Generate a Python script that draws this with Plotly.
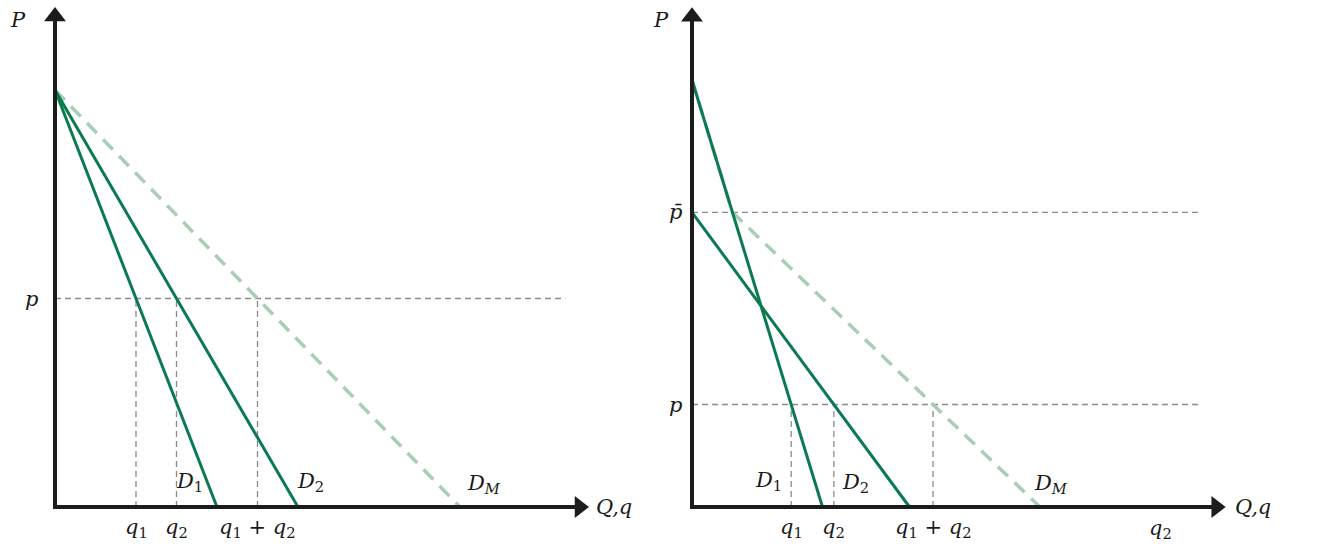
import plotly.graph_objects as go

# left panel: two demands with the same price intercept
left_a = 10          # common price intercept
left_d1_q0 = 4       # D1 quantity intercept
left_d2_q0 = 6       # D2 quantity intercept
left_p = 5           # price level

# right panel: demands with different price intercepts (kinked market demand)
right_a1 = 10        # D1 price intercept
right_d1_q0 = 3
right_a2 = 6.9       # D2 price intercept = p bar
right_d2_q0 = 5
right_p = 2.4

GREEN = "#0b7a4f"
LIGHT = "#a8ceb6"
GRAY = "#8a8a8a"
AXIS = "#1c1c1c"
FONT = "DejaVu Serif"


def q_at(a, q0, price):
    return q0 * (1 - price / a)


lq1 = q_at(left_a, left_d1_q0, left_p)
lq2 = q_at(left_a, left_d2_q0, left_p)
rq1 = q_at(right_a1, right_d1_q0, right_p)
rq2 = q_at(right_a2, right_d2_q0, right_p)
r_kink_q = q_at(right_a1, right_d1_q0, right_a2)

fig = go.Figure()


def line(x, y, xa, ya, color, width, dash="solid"):
    fig.add_trace(go.Scatter(x=x, y=y, mode="lines", xaxis=xa, yaxis=ya,
                             line=dict(color=color, width=width, dash=dash),
                             hoverinfo="skip", showlegend=False))


def arrow(x, y, xa, ya, symbol):
    fig.add_trace(go.Scatter(x=[x], y=[y], mode="markers", xaxis=xa, yaxis=ya,
                             marker=dict(symbol=symbol, size=19, color=AXIS,
                                         line=dict(width=0)),
                             hoverinfo="skip", showlegend=False))


# ---- left panel ----
line([0, 12.6], [left_p, left_p], "x", "y", GRAY, 1.3, "6px,4px")
for qv in [lq1, lq2, lq1 + lq2]:
    line([qv, qv], [0, left_p], "x", "y", GRAY, 1.3, "6px,4px")
line([0, left_d1_q0 + left_d2_q0], [left_a, 0], "x", "y", LIGHT, 3.5, "14px,9px")
line([0, left_d1_q0], [left_a, 0], "x", "y", GREEN, 3)
line([0, left_d2_q0], [left_a, 0], "x", "y", GREEN, 3)
line([0, 0, 13.0], [11.7, 0, 0], "x", "y", AXIS, 4)
arrow(0, 11.76, "x", "y", "triangle-up")
arrow(12.95, 0, "x", "y", "triangle-right")

# ---- right panel ----
for pv in [right_a2, right_p]:
    line([0, 11.72], [pv, pv], "x2", "y2", GRAY, 1.3, "6px,4px")
for qv in [rq1, rq2, rq1 + rq2]:
    line([qv, qv], [0, right_p], "x2", "y2", GRAY, 1.3, "6px,4px")
line([0, r_kink_q, right_d1_q0 + right_d2_q0], [right_a1, right_a2, 0],
     "x2", "y2", LIGHT, 3.5, "14px,9px")
line([0, right_d1_q0], [right_a1, 0], "x2", "y2", GREEN, 3)
line([0, right_d2_q0], [right_a2, 0], "x2", "y2", GREEN, 3)
line([0, 0, 12.1], [11.4, 0, 0], "x2", "y2", AXIS, 4)
arrow(0, 11.48, "x2", "y2", "triangle-up")
arrow(12.05, 0, "x2", "y2", "triangle-right")

# ---- labels ----
Q1 = "<i>q</i><sub>1</sub>"
Q2 = "<i>q</i><sub>2</sub>"
labels = [
    ("x", "y", -0.91, 11.68, "<i>P</i>"),
    ("x", "y", -0.59, left_p, "<i>p</i>"),
    ("x", "y", 13.8, 0, "<i>Q,q</i>"),
    ("x", "y", 3.31, 0.6, "<i>D</i><sub>1</sub>"),
    ("x", "y", 6.3, 0.6, "<i>D</i><sub>2</sub>"),
    ("x", "y", 10.6, 0.55, "<i>D</i><sub><i>M</i></sub>"),
    ("x", "y", lq1, -0.5, Q1),
    ("x", "y", lq2, -0.5, Q2),
    ("x", "y", lq1 + lq2, -0.5, Q1 + " + " + Q2),
    ("paper", "y2", 0.5008, 11.4, "<i>P</i>"),
    ("x2", "y2", -0.37, right_a2, "<i>p\u0304</i>"),
    ("x2", "y2", -0.37, right_p, "<i>p</i>"),
    ("x2", "y2", 12.9, 0, "<i>Q,q</i>"),
    ("x2", "y2", 1.75, 0.6, "<i>D</i><sub>1</sub>"),
    ("x2", "y2", 3.75, 0.56, "<i>D</i><sub>2</sub>"),
    ("x2", "y2", 8.25, 0.54, "<i>D</i><sub><i>M</i></sub>"),
    ("x2", "y2", rq1, -0.5, Q1),
    ("x2", "y2", rq2, -0.5, Q2),
    ("x2", "y2", rq1 + rq2, -0.5, Q1 + " + " + Q2),
    ("x2", "y2", 10.76, -0.52, Q2),
]
for xr, yr, x, y, t in labels:
    fig.add_annotation(x=x, y=y, xref=xr, yref=yr, text=t, showarrow=False,
                       xanchor="center", yanchor="middle",
                       font=dict(family=FONT, size=21, color="#1a1a1a"))

ax_common = dict(visible=False, showgrid=False, zeroline=False, fixedrange=True)
fig.update_layout(
    width=1320, height=552,
    margin=dict(l=0, r=0, t=0, b=0),
    paper_bgcolor="white", plot_bgcolor="white",
    xaxis=dict(domain=[0, 0.5], range=[-55 / 40.5, 605 / 40.5], **ax_common),
    yaxis=dict(domain=[0, 1], range=[-45 / 41.7, 507 / 41.7], **ax_common),
    xaxis2=dict(domain=[0.5, 1], range=[-32 / 43.5, 628 / 43.5], anchor="y2", **ax_common),
    yaxis2=dict(domain=[0, 1], range=[-45 / 42.7, 507 / 42.7], anchor="x2", **ax_common),
)

fig.write_html("out.html", config={"displayModeBar": False},
               post_script="document.body.style.margin='0';")
